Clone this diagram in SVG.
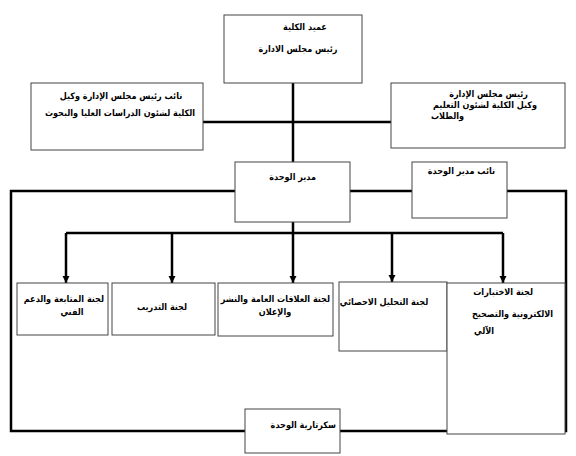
<svg xmlns="http://www.w3.org/2000/svg" width="576" height="456" viewBox="0 0 576 456">
<style>
.box{fill:#fff;stroke:#444;stroke-width:1}
.t{font-family:"DejaVu Sans Condensed","DejaVu Sans",sans-serif;font-weight:bold;font-size:9px;fill:#000}
.c{fill:none;stroke:#000;stroke-width:2.5}
</style>
<defs>
<marker id="ah" viewBox="0 0 10 10" refX="10" refY="5" markerWidth="3" markerHeight="3" orient="auto" markerUnits="strokeWidth">
<path d="M0,0 L10,5 L0,10 z" fill="#000"/>
</marker>
</defs>
<rect width="576" height="456" fill="#fff"/>
<g id="connectors">
<line class="c" x1="293" y1="83" x2="293" y2="162"/>
<line class="c" x1="203" y1="122" x2="391" y2="122"/>
<polyline class="c" points="235,191 11,191 11,431 245,431"/>
<polyline class="c" points="507,191 566,191 566,431 340,431"/>
<line class="c" x1="350" y1="191" x2="412" y2="191"/>
<line class="c" x1="293" y1="222" x2="293" y2="233"/>
<line class="c" x1="66" y1="233" x2="503" y2="233"/>
<line class="c" x1="66" y1="233" x2="66" y2="283" marker-end="url(#ah)"/>
<line class="c" x1="172" y1="233" x2="172" y2="283" marker-end="url(#ah)"/>
<line class="c" x1="293" y1="233" x2="293" y2="283" marker-end="url(#ah)"/>
<line class="c" x1="392" y1="233" x2="392" y2="282" marker-end="url(#ah)"/>
<line class="c" x1="503" y1="233" x2="503" y2="283" marker-end="url(#ah)"/>
</g>
<g id="dean">
<rect class="box" x="224" y="15" width="138" height="68"/>
<text class="t" x="305" y="30" text-anchor="middle">عميد الكلية</text>
<text class="t" x="298" y="52" text-anchor="middle">رئيس  مجلس  الادارة</text>
</g>
<g id="vice-grad">
<rect class="box" x="31" y="83" width="172" height="67"/>
<text class="t" x="121" y="99" text-anchor="middle">نائب رئيس مجلس الإدارة وكيل</text>
<text class="t" x="120" y="116" text-anchor="middle">الكلية لشئون الدراسات العليا والبحوث</text>
</g>
<g id="vice-edu">
<rect class="box" x="391" y="83" width="174" height="65"/>
<text class="t" x="528" y="97" text-anchor="end">رئيس مجلس الإدارة</text>
<text class="t" x="537" y="108" text-anchor="end">وكيل الكلية لشئون  التعليم</text>
<text class="t" x="464" y="119" text-anchor="end">والطلاب</text>
</g>
<g id="director">
<rect class="box" x="235" y="162" width="115" height="60"/>
<text class="t" x="316" y="180" text-anchor="end">مدير الوحدة</text>
</g>
<g id="deputy">
<rect class="box" x="412" y="162" width="95" height="56"/>
<text class="t" x="495" y="174" text-anchor="end">نائب مدير الوحدة</text>
</g>
<g id="follow-up">
<rect class="box" x="17" y="283" width="91" height="52"/>
<text class="t" x="104" y="302" text-anchor="end">لجنة المتابعة والدعم</text>
<text class="t" x="72" y="315" text-anchor="middle">الفني</text>
</g>
<g id="training">
<rect class="box" x="112" y="283" width="103" height="52"/>
<text class="t" x="162" y="310" text-anchor="middle">لجنة التدريب</text>
</g>
<g id="pr">
<rect class="box" x="218" y="283" width="115" height="53"/>
<text class="t" x="330" y="302" text-anchor="end">لجنة العلاقات العامة والنشر</text>
<text class="t" x="275" y="315" text-anchor="middle">والإعلان</text>
</g>
<g id="stats">
<rect class="box" x="339" y="282" width="108" height="69"/>
<text class="t" x="384" y="305" text-anchor="middle">لجنة التحليل الاحصائي</text>
</g>
<g id="exams">
<rect class="box" x="447" y="283" width="118" height="151"/>
<text class="t" x="533" y="295" text-anchor="end">لجنة الاختبارات</text>
<text class="t" x="553" y="317" text-anchor="end">الالكترونية والتصحيح</text>
<text class="t" x="494" y="334" text-anchor="end">الآلي</text>
</g>
<g id="secretary">
<rect class="box" x="245" y="409" width="95" height="44"/>
<text class="t" x="336" y="428" text-anchor="end">سكرتارية الوحدة</text>
</g>
</svg>
